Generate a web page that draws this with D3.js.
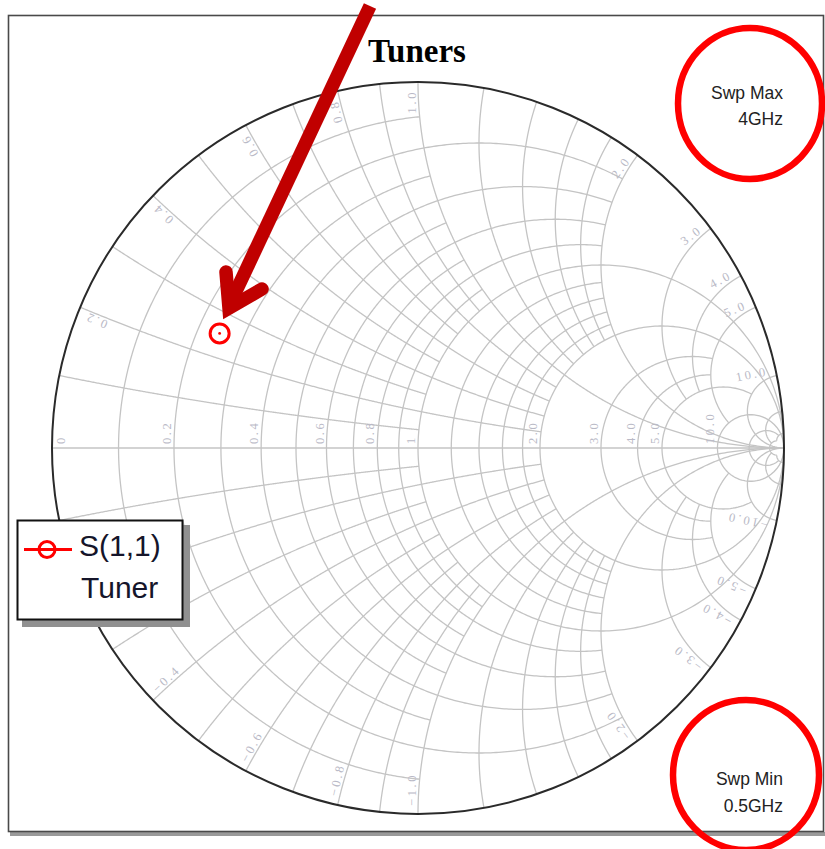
<!DOCTYPE html>
<html>
<head>
<meta charset="utf-8">
<script src="https://cdn.jsdelivr.net/npm/d3@7"></script>
<style>
  body { margin: 0; background: #fff; }
  svg { display: block; }
</style>
</head>
<body>
<svg id="chart" width="825" height="849"></svg>
<script>
// Constant-resistance circles and the |reactance| up to which each one is drawn
const resistanceValues = [0.1, 0.2, 0.3, 0.4, 0.5, 0.6, 0.7, 0.8, 0.9, 1, 1.2, 1.4, 1.6, 1.8, 2, 3, 4, 5, 10, 20, 50];
const resistanceReach  = [1, 2, 1, 2, 1, 2, 1, 2, 1, Infinity, 2, 2, 2, 2, Infinity, 5, 5, 10, Infinity, 50, 50];
// Constant-reactance arcs (both signs) and the resistance up to which each one is drawn
const reactanceValues  = [0.1, 0.2, 0.3, 0.4, 0.5, 0.6, 0.7, 0.8, 0.9, 1, 1.2, 1.4, 1.6, 1.8, 2, 3, 4, 5, 10, 20, 50];
const reactanceReach   = [1, 2, 1, 2, 1, 2, 1, 2, 1, Infinity, 2, 2, 2, 2, Infinity, 5, 5, 10, Infinity, 50, 50];

// Labels on the real axis
const resistanceTicks  = [0, 0.2, 0.4, 0.6, 0.8, 1, 2, 3, 4, 5, 10];
const resistanceLabels = ["0", "0.2", "0.4", "0.6", "0.8", "1", "2.0", "3.0", "4.0", "5.0", "10.0"];
// Labels around the rim
const reactanceTicks   = [0.2, 0.4, 0.6, 0.8, 1, 2, 3, 4, 5, 10, -0.2, -0.4, -0.6, -0.8, -1, -2, -3, -4, -5, -10];
const reactanceLabels  = ["0.2", "0.4", "0.6", "0.8", "1.0", "2.0", "3.0", "4.0", "5.0", "10.0",
                          "\u22120.2", "\u22120.4", "\u22120.6", "\u22120.8", "\u22121.0", "\u22122.0", "\u22123.0", "\u22124.0", "\u22125.0", "\u221210.0"];

// S(1,1) of the tuner across the sweep (reflection coefficient)
const sweepGHz = [0.5, 4];
const s11Re    = [-0.542, -0.542];
const s11Im    = [0.313, 0.313];

const seriesName = ["S(1,1)", "Tuner"];
const sweepMax   = ["Swp Max", "4GHz"];
const sweepMin   = ["Swp Min", "0.5GHz"];

const svg = d3.select("#chart");
const cx = 418, cy = 448, R = 366;
const sx = d3.scaleLinear().domain([-1, 1]).range([cx - R, cx + R]);
const sy = d3.scaleLinear().domain([-1, 1]).range([cy + R, cy - R]);

// reflection coefficient of a normalised impedance r + jx
function gamma(r, x) {
  const den = (r + 1) * (r + 1) + x * x;
  return [(r * r - 1 + x * x) / den, 2 * x / den];
}
const line = d3.line().x(d => sx(d[0])).y(d => sy(d[1]));
const N = 500;

// frame
svg.append("rect").attr("x", 10).attr("y", 832).attr("width", 815).attr("height", 4).attr("fill", "#9a9a9a");
svg.append("rect").attr("x", 8.5).attr("y", 15.5).attr("width", 815).attr("height", 816)
  .attr("fill", "none").attr("stroke", "#4a4a4a").attr("stroke-width", 1.6);

const grid = svg.append("g").attr("fill", "none").attr("stroke", "#c4c4c4").attr("stroke-width", 1.3);

// resistance circles
resistanceValues.forEach((r, i) => {
  const t0 = Math.atan(resistanceReach[i]);
  const pts = d3.range(N + 1).map(k => {
    const t = -t0 + 2 * t0 * k / N;
    return gamma(r, Math.tan(t));
  });
  grid.append("path").attr("d", line(pts));
});
// reactance arcs
reactanceValues.forEach((x, i) => {
  const t1 = Math.atan(reactanceReach[i]);
  [x, -x].forEach(xv => {
    const pts = d3.range(N + 1).map(k => gamma(Math.tan(t1 * k / N), xv));
    grid.append("path").attr("d", line(pts));
  });
});
// real axis
grid.append("path").attr("d", line([[-1, 0], [1, 0]]));

// rim
svg.append("circle").attr("cx", sx(0)).attr("cy", sy(0)).attr("r", sx(1) - sx(0))
  .attr("fill", "none").attr("stroke", "#2a2a2a").attr("stroke-width", 2);

// grid value labels
const lab = svg.append("g").attr("font-family", "Liberation Serif, serif").attr("font-size", 12.5)
  .attr("letter-spacing", 2.6).attr("fill", "#b9b9c6");
resistanceTicks.forEach((r, i) => {
  const px = r === 0 ? sx(-1) + 15 : sx((r - 1) / (r + 1)) - 1;
  lab.append("text").attr("transform", `translate(${px},${sy(0) - 4}) rotate(-90)`)
    .attr("y", -2).text(resistanceLabels[i]);
});
reactanceTicks.forEach((x, i) => {
  const g = gamma(0, x);
  const th = Math.atan2(g[1], g[0]);
  const k = 1 - 8 / R;
  const px = sx(g[0] * k), py = sy(g[1] * k);
  const deg = th * 180 / Math.PI;
  if (x > 0) {
    lab.append("text").attr("transform", `translate(${px},${py}) rotate(${-deg})`)
      .attr("text-anchor", "end").attr("y", -2).text(reactanceLabels[i]);
  } else {
    lab.append("text").attr("transform", `translate(${px},${py}) rotate(${-(deg + 180)})`)
      .attr("text-anchor", "start").attr("y", -2).text(reactanceLabels[i]);
  }
});

// S(1,1) trace and marker
const tr = sweepGHz.map((f, i) => [s11Re[i], s11Im[i]]);
svg.append("path").attr("d", line(tr)).attr("fill", "none").attr("stroke", "#ff0000").attr("stroke-width", 2);
svg.append("circle").attr("cx", sx(s11Re[0])).attr("cy", sy(s11Im[0])).attr("r", 1.4).attr("fill", "#ff0000");
svg.append("circle").attr("cx", sx(s11Re[0])).attr("cy", sy(s11Im[0])).attr("r", 9.5)
  .attr("fill", "none").attr("stroke", "#ff0000").attr("stroke-width", 3);

// title
svg.append("text").attr("x", 417).attr("y", 62).attr("text-anchor", "middle")
  .attr("font-family", "Liberation Serif, serif").attr("font-weight", "bold").attr("font-size", 33)
  .attr("fill", "#000").text("Tuners");

// sweep limits
const sw = svg.append("g").attr("font-family", "Liberation Sans, Arial, sans-serif").attr("font-size", 17.5)
  .attr("fill", "#222").attr("text-anchor", "end");
sw.append("text").attr("x", 783).attr("y", 99).text(sweepMax[0]);
sw.append("text").attr("x", 783).attr("y", 125).text(sweepMax[1]);
sw.append("text").attr("x", 783).attr("y", 785).text(sweepMin[0]);
sw.append("text").attr("x", 783).attr("y", 812).text(sweepMin[1]);

// legend
svg.append("rect").attr("x", 22).attr("y", 525).attr("width", 168).attr("height", 102).attr("fill", "#909090");
svg.append("rect").attr("x", 17.5).attr("y", 520.5).attr("width", 165).attr("height", 99)
  .attr("fill", "#fff").attr("stroke", "#111").attr("stroke-width", 2);
svg.append("line").attr("x1", 24).attr("x2", 72).attr("y1", 549.5).attr("y2", 549.5)
  .attr("stroke", "#ff0000").attr("stroke-width", 3);
svg.append("circle").attr("cx", 47).attr("cy", 549.5).attr("r", 8)
  .attr("fill", "none").attr("stroke", "#ff0000").attr("stroke-width", 3);
const lg = svg.append("g").attr("font-family", "Liberation Sans, Arial, sans-serif").attr("font-size", 30).attr("fill", "#15152a");
lg.append("text").attr("x", 79).attr("y", 556).text(seriesName[0]);
lg.append("text").attr("x", 81).attr("y", 598).text(seriesName[1]);

// highlight rings
svg.append("ellipse").attr("cx", 750).attr("cy", 103.5).attr("rx", 72).attr("ry", 75.5)
  .attr("fill", "none").attr("stroke", "#ff0000").attr("stroke-width", 6.5);
svg.append("ellipse").attr("cx", 746).attr("cy", 775).attr("rx", 73).attr("ry", 75)
  .attr("fill", "none").attr("stroke", "#ff0000").attr("stroke-width", 6.5);

// pointer arrow
const arrow = svg.append("g").attr("fill", "none").attr("stroke", "#c00000").attr("stroke-width", 13.5);
arrow.append("path").attr("d", "M370,6 L229,306");
arrow.append("path").attr("d", "M226,272 L229,308 L262,289")
  .attr("stroke-linecap", "round").attr("stroke-linejoin", "miter").attr("stroke-miterlimit", 10);
</script>
</body>
</html>
